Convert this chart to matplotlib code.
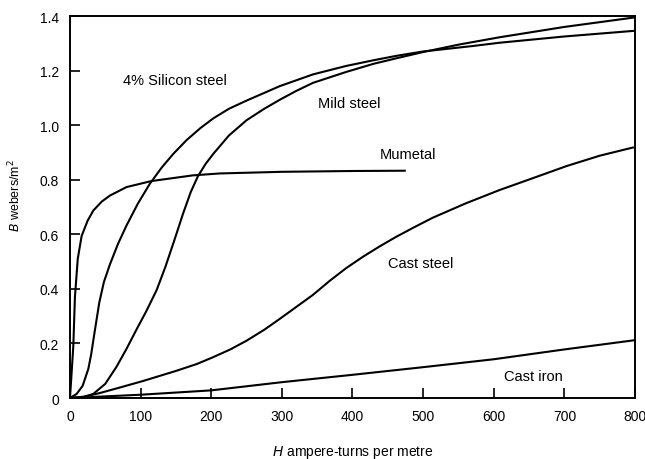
"""
Magnetisation (B-H) curves for common core materials.
Saves out.png
"""

import matplotlib
matplotlib.use("Agg")
import matplotlib.pyplot as plt

plt.rcParams["font.family"] = ["Liberation Sans", "DejaVu Sans"]

# H in ampere-turns per metre, B in webers/m^2
mumetal_h = [0, 2, 4.7, 7, 11, 16.5, 25, 33, 45, 56.6, 80, 115, 174, 212, 300, 400, 474]
mumetal_b = [0, 0.08, 0.19, 0.37, 0.51, 0.594, 0.65, 0.687, 0.72, 0.742, 0.773, 0.795,
             0.816, 0.823, 0.829, 0.832, 0.833]

silicon_h = [0, 9.5, 18, 26, 30, 35, 41.5, 48, 56.6, 68, 80, 96, 113, 130, 146, 165, 185,
             203, 225, 250, 297, 344, 391, 430, 462, 500, 570, 608, 700, 800]
silicon_b = [0, 0.015, 0.045, 0.107, 0.16, 0.244, 0.35, 0.425, 0.49, 0.565, 0.632, 0.712,
             0.785, 0.845, 0.894, 0.945, 0.99, 1.025, 1.06, 1.09, 1.143, 1.186, 1.217,
             1.238, 1.254, 1.27, 1.29, 1.302, 1.325, 1.346]

mild_h = [0, 20, 33, 50, 66, 80, 94, 108, 122.6, 135, 148, 160, 171, 181, 192, 203, 225,
          250, 275, 297, 320, 344, 391, 430, 462, 500, 550, 608, 700, 800]
mild_b = [0, 0.004, 0.015, 0.052, 0.115, 0.18, 0.25, 0.318, 0.395, 0.48, 0.58, 0.675,
          0.755, 0.812, 0.858, 0.895, 0.962, 1.018, 1.06, 1.093, 1.125, 1.155, 1.195,
          1.225, 1.245, 1.268, 1.295, 1.322, 1.36, 1.395]

cast_steel_h = [0, 20, 42, 70, 103, 151, 180, 203, 227, 250, 275, 297, 320, 344, 368, 391,
                415, 438, 462, 486, 513, 560, 608, 660, 703, 750, 797]
cast_steel_b = [0, 0.005, 0.018, 0.038, 0.062, 0.1, 0.125, 0.15, 0.178, 0.21, 0.25, 0.29,
                0.333, 0.378, 0.43, 0.476, 0.518, 0.555, 0.591, 0.624, 0.66, 0.713, 0.762,
                0.81, 0.85, 0.888, 0.918]

cast_iron_h = [0, 100, 200, 300, 400, 500, 600, 700, 800]
cast_iron_b = [0, 0.012, 0.028, 0.058, 0.085, 0.113, 0.142, 0.178, 0.212]

x_ticks = [0, 100, 200, 300, 400, 500, 600, 700, 800]
y_ticks = [0, 0.2, 0.4, 0.6, 0.8, 1.0, 1.2, 1.4]
y_tick_labels = ["0", "0.2", "0.4", "0.6", "0.8", "1.0", "1.2", "1.4"]

fig = plt.figure(figsize=(6.45, 4.6), dpi=100)
ax = fig.add_axes([0.1085, 0.1326, 0.876, 0.8304])

for h, b in [(mumetal_h, mumetal_b), (silicon_h, silicon_b), (mild_h, mild_b),
             (cast_steel_h, cast_steel_b), (cast_iron_h, cast_iron_b)]:
    ax.plot(h, b, color="black", linewidth=1.5, solid_joinstyle="round")

ax.set_xlim(0, 800)
ax.set_ylim(0, 1.4)
ax.set_xticks(x_ticks)
ax.set_yticks(y_ticks)
ax.set_yticklabels(y_tick_labels)
ax.tick_params(direction="in", length=7, width=1.2, labelsize=10, pad=8)
for s in ax.spines.values():
    s.set_linewidth(1.4)

ax.set_xlabel("$H$ ampere-turns per metre", fontsize=10, labelpad=14)
ax.set_ylabel("$B$ webers/m$^2$", fontsize=9)
ax.yaxis.set_label_coords(-0.082, 0.534)

# curve names
lab = dict(fontsize=10.5, color="black", va="center", ha="left")
ax.text(75, 1.165, "4% Silicon steel", **lab)
ax.text(351, 1.08, "Mild steel", **lab)
ax.text(438, 0.895, "Mumetal", **lab)
ax.text(450, 0.495, "Cast steel", **lab)
ax.text(615, 0.08, "Cast iron", **lab)

fig.savefig("out.png", dpi=100)
